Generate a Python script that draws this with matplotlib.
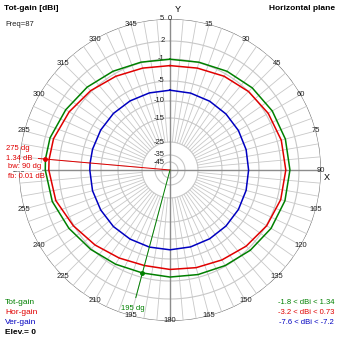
import numpy as np
import matplotlib
matplotlib.use("Agg")
import matplotlib.pyplot as plt

plt.rcParams['font.family'] = ['Liberation Sans', 'DejaVu Sans']

# azimuth (deg, clockwise from Y) and gains in dBi
angles = [0, 15, 30, 45, 60, 75, 90, 105, 120, 135, 150, 165,
          180, 195, 210, 225, 240, 255, 270, 275, 285, 300, 315, 330, 345]
hor_gain = [-2.2, -2.0, -1.5, -1.0, -0.6, -0.3, -0.2, -0.4, -0.9, -1.6, -2.3, -2.8,
            -3.1, -3.2, -2.7, -1.9, -0.9, 0.2, 0.7, 0.73, 0.6, -0.1, -0.8, -1.5, -2.0]
tot_gain = [-1.05, -0.9, -0.5, -0.13, 0.18, 0.41, 0.49, 0.33, -0.05, -0.58, -1.12, -1.5,
            -1.72, -1.8, -1.4, -0.8, -0.05, 0.81, 1.29, 1.34, 1.2, 0.57, 0.03, -0.5, -0.89]
ver_gain = [-7.3, -7.35, -7.4, -7.45, -7.5, -7.55, -7.6, -7.55, -7.5, -7.45, -7.4, -7.35,
            -7.3, -7.3, -7.3, -7.25, -7.25, -7.2, -7.2, -7.2, -7.2, -7.25, -7.25, -7.3, -7.3]

ring_levels = [5, 2, -1, -5, -10, -15, -25, -35, -45]
angle_labels = list(range(0, 360, 15))

max_angle = 275
min_angle = 195
beamwidth, front_back = 90, 0.01

# compressed radial scale of the plot (level in dB -> fraction of outer radius)
scale_db = [-200, -45, -35, -25, -15, -10, -5, -1, 2, 5]
scale_fr = [0.0, 8 / 151, 15 / 151, 28 / 151, 52 / 151, 69 / 151, 89 / 151, 111 / 151, 129 / 151, 1.0]
TOP = 5.0


def fwd(db):
    return np.interp(np.asarray(db, dtype=float), scale_db, scale_fr)


def inv(r):
    return np.interp(np.asarray(r, dtype=float), scale_fr, scale_db)


GREEN = '#008000'
RED = '#e00000'
BLUE = '#0000c0'
GRID = '#c8c8c8'
AXIS = '#8c8c8c'

fig = plt.figure(figsize=(3.39, 3.39), dpi=100)
R_PX = 151
cx, cy = 170, 170
ax = fig.add_axes([(cx - R_PX) / 339, (339 - cy - R_PX) / 339, 2 * R_PX / 339, 2 * R_PX / 339],
                  projection='polar')
ax.set_theta_zero_location('N')
ax.set_theta_direction(-1)
ax.set_rscale('function', functions=(fwd, inv))
ax.set_rlim(-200, TOP)
ax.grid(False)
ax.set_xticks([])
ax.set_yticks([])
ax.spines['polar'].set_visible(False)
ax.patch.set_visible(False)

th_full = np.linspace(0, 2 * np.pi, 721)
# rings
for lvl in ring_levels:
    col = '#707070' if lvl == TOP else GRID
    ax.plot(th_full, np.full_like(th_full, lvl), color=col, lw=0.8, zorder=1)
# spokes every 5 degrees in the outer region
for a in range(0, 360, 5):
    if a % 90 == 0:
        continue
    t = np.deg2rad(a)
    ax.plot([t, t], [-25, TOP], color=GRID, lw=0.6, zorder=1)
# X / Y axes
for a in (0, 90, 180, 270):
    t = np.deg2rad(a)
    ax.plot([t, t], [-200, TOP], color=AXIS, lw=1.0, zorder=2)

# angle labels
for a in angle_labels:
    t = np.deg2rad(a)
    ax.text(t, inv(158 / R_PX), str(a), ha='center', va='center', fontsize=5.5,
            color='#202020', clip_on=False, zorder=3)
# ring labels
for lvl in ring_levels:
    ax.annotate(str(lvl), xy=(0, lvl), xytext=(-4, 0), textcoords='offset points',
                ha='right', va='center', fontsize=5.5, color='#202020', zorder=3)

# patterns
th = np.deg2rad(np.array(angles + [360]))


def closed(v):
    return np.array(v + [v[0]])


ax.plot(th, closed(ver_gain), color=BLUE, lw=1.1, zorder=4)
ax.plot(th, closed(hor_gain), color=RED, lw=1.1, zorder=5)
ax.plot(th, closed(tot_gain), color=GREEN, lw=1.1, zorder=6)

# max marker
max_value = max(tot_gain)
tm = np.deg2rad(max_angle)
ax.plot([tm, tm], [-200, inv(132 / R_PX)], color=RED, lw=0.7, zorder=7)
ax.plot([tm], [max_value], 'o', color=RED, ms=2.5, zorder=8)
# min marker
tn = np.deg2rad(min_angle)
min_value = min(tot_gain)
ax.plot([tn, tn], [-200, inv(132 / R_PX)], color=GREEN, lw=0.7, zorder=7)
ax.plot([tn], [min_value], 'o', color=GREEN, ms=2.5, zorder=8)
ax.text(tn, inv(143 / R_PX), f'{min_angle} dg', color=GREEN, fontsize=5.5,
        ha='center', va='center', clip_on=False, zorder=9)


# annotations in figure pixels
def ftext(x, y, s, **kw):
    fig.text(x / 339, 1 - y / 339, s, **kw)


ftext(4, 8, 'Tot-gain [dBi]', fontsize=6, fontweight='bold', va='center')
ftext(5, 25, 'Freq=87', fontsize=5.5, va='center', color='#202020')
ftext(335, 8, 'Horizontal plane', fontsize=6, fontweight='bold', va='center', ha='right')
ftext(178, 10, 'Y', fontsize=6.5, va='center', ha='center')
ftext(327, 178, 'X', fontsize=6.5, va='center', ha='center')

ftext(6, 149, f'{max_angle} dg', fontsize=5.5, color=RED, va='center')
ftext(6, 158, f'{max_value:.2f} dB', fontsize=5.5, color=RED, va='center')
ftext(8, 167, f'bw: {beamwidth} dg', fontsize=5.5, color=RED, va='center',
      bbox=dict(fc='white', ec='none', pad=0.3))
ftext(8, 176, f'fb: {front_back:.2f} dB', fontsize=5.5, color=RED, va='center')

ftext(5, 303, 'Tot-gain', fontsize=6, color=GREEN, va='center')
ftext(5, 313, 'Hor-gain', fontsize=6, color=RED, va='center')
ftext(5, 323, 'Ver-gain', fontsize=6, color=BLUE, va='center')
ftext(5, 333, 'Elev.= 0', fontsize=6, fontweight='bold', va='center')

ranges = [(min(tot_gain), max(tot_gain), GREEN), (min(hor_gain), max(hor_gain), RED),
          (min(ver_gain), max(ver_gain), BLUE)]
for i, (lo, hi, c) in enumerate(ranges):
    ftext(334, 303 + 10 * i, f'{lo:g} < dBi < {hi:g}', fontsize=5.5, color=c,
          va='center', ha='right')

fig.savefig('out.png', dpi=100, facecolor='white')
